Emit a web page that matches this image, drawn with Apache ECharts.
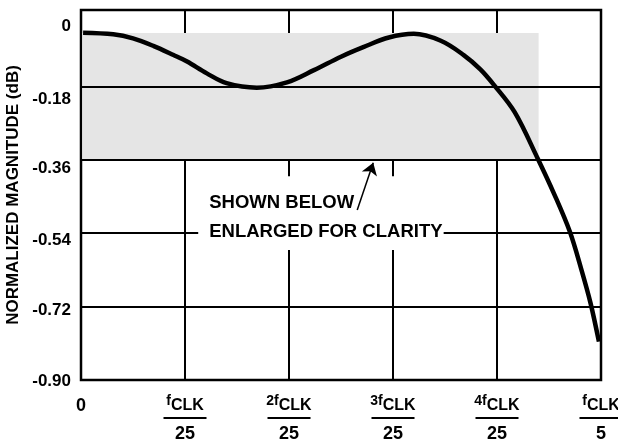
<!DOCTYPE html>
<html>
<head>
<meta charset="utf-8">
<script src="https://cdn.jsdelivr.net/npm/echarts@6/dist/echarts.min.js"></script>
<style>
  html, body { margin: 0; padding: 0; background: #fff; }
  #chart { width: 618px; height: 441px; }
</style>
</head>
<body>
<div id="chart"></div>
<script>
// ---- data ----
const xTickValues = [0, 1, 2, 3, 4, 5];               // multiples of fCLK/25
const xTickPrefix = ['', '', '2', '3', '4', ''];
const xTickDenominators = ['', '25', '25', '25', '25', '5'];
const yTickValues = [0, -0.18, -0.36, -0.54, -0.72, -0.9];
const yTickLabels = ['0', '-0.18', '-0.36', '-0.54', '-0.72', '-0.90'];
const yGridValues = [-0.18, -0.36, -0.54, -0.72];
const curveX = [0.02, 0.31, 0.50, 0.70, 0.89, 1.02, 1.21, 1.40, 1.69, 1.98, 2.24, 2.50, 2.72, 2.96, 3.20, 3.46, 3.68, 3.84, 3.97, 4.17, 4.39, 4.55, 4.70, 4.81, 4.90, 4.98];
const curveY = [-0.048, -0.052, -0.062, -0.081, -0.103, -0.119, -0.148, -0.172, -0.183, -0.170, -0.140, -0.107, -0.083, -0.060, -0.051, -0.068, -0.103, -0.138, -0.176, -0.243, -0.356, -0.444, -0.536, -0.628, -0.712, -0.806];
const shadedX = [0.012, 4.40];
const shadedY = [-0.049, -0.36];
const noteLines = ['SHOWN BELOW', 'ENLARGED FOR CLARITY'];
const yAxisTitle = 'NORMALIZED MAGNITUDE (dB)';

// ---- chart ----
const FONT = 'Liberation Sans, Arial, Helvetica, sans-serif';
const B = 700;
const yLabelPad = [25.6, 24.8, 16.4, 14.6, 8.4, 3.4];
const yRich = {};
yLabelPad.forEach((p, i) => {
  yRich['o' + i] = { fontSize: 17, fontWeight: B, fontFamily: FONT, color: '#000', padding: [p, 0, 0, 0] };
});

const chart = echarts.init(document.getElementById('chart'), null, { renderer: 'canvas' });
const option = {
  animation: false,
  backgroundColor: '#fff',
  textStyle: { fontFamily: FONT, fontWeight: B, color: '#000' },
  grid: { left: 81, right: 17, top: 10, bottom: 61, outerBoundsMode: 'none', containLabel: false, show: true, borderColor: '#000', borderWidth: 2.5, backgroundColor: 'transparent' },
  xAxis: {
    type: 'value', min: 0, max: 5, interval: 1,
    axisLine: { show: false }, axisTick: { show: false },
    splitLine: { show: true, lineStyle: { color: '#000', width: 2 } },
    axisLabel: {
      margin: 14, fontWeight: B, fontFamily: FONT, color: '#000',
      formatter: function (v) {
        const i = xTickValues.indexOf(Math.round(v));
        if (i < 0) return '';
        if (xTickValues[i] === 0) return '{zero|0}';
        return '{sup|' + xTickPrefix[i] + 'f}{clk|CLK}\n{bar|}\n{den|' + xTickDenominators[i] + '}';
      },
      rich: {
        zero: { fontSize: 18, fontWeight: B, fontFamily: FONT, color: '#000', padding: [3, 0, 0, 0] },
        sup: { fontSize: 14, fontWeight: B, fontFamily: FONT, color: '#000', verticalAlign: 'bottom', padding: [0, 0, 9, 0] },
        clk: { fontSize: 16, fontWeight: B, fontFamily: FONT, color: '#000', verticalAlign: 'bottom', padding: [0, 0, 3, 0] },
        bar: { width: 43, height: 2, lineHeight: 2, backgroundColor: '#000' },
        den: { fontSize: 18, fontWeight: B, fontFamily: FONT, color: '#000', padding: [6, 0, 0, 0] }
      }
    }
  },
  yAxis: {
    type: 'value', min: -0.9, max: 0.0075, interval: 0.18,
    axisLine: { show: false }, axisTick: { show: false }, splitLine: { show: false },
    name: yAxisTitle, nameLocation: 'middle', nameGap: 52,
    nameTextStyle: { fontSize: 17, fontWeight: B, fontFamily: FONT, color: '#000' },
    axisLabel: {
      margin: 10, fontWeight: B, fontFamily: FONT, color: '#000',
      formatter: function (v) {
        for (let i = 0; i < yTickValues.length; i++) {
          if (Math.abs(yTickValues[i] - v) < 1e-6) return '{o' + i + '|' + yTickLabels[i] + '}';
        }
        return '';
      },
      rich: yRich
    }
  },
  series: [
    {
      name: 'shade', type: 'line', data: [], z: -1, silent: true,
      markArea: {
        silent: true,
        itemStyle: { color: '#e5e5e5' },
        data: [[{ coord: [shadedX[0], shadedY[0]] }, { coord: [shadedX[1], shadedY[1]] }]]
      }
    },
    {
      name: 'grid', type: 'line', data: [], z: 1, silent: true,
      markLine: {
        silent: true, z: 2, symbol: ['none', 'none'], label: { show: false },
        lineStyle: { color: '#000', width: 2, type: 'solid' },
        data: yGridValues.map(v => ({ yAxis: v }))
      }
    },
    {
      name: 'note', type: 'line', data: [], z: 3, silent: true,
      markArea: {
        silent: true, z: 6,
        itemStyle: { color: '#fff' },
        data: [[{ coord: [1.127, -0.400] }, { coord: [3.487, -0.581] }]]
      },
      markPoint: {
        silent: true, z: 7, symbol: 'circle', symbolSize: 0, itemStyle: { color: 'transparent' },
        label: {
          show: true, position: 'right', distance: 0,
          formatter: noteLines.join('\n'),
          fontSize: 18.5, fontWeight: B, fontFamily: FONT, color: '#000',
          lineHeight: 28.7, align: 'left'
        },
        data: [{ coord: [1.233, -0.501] }]
      }
    },
    {
      name: 'arrow', type: 'line', data: [], z: 4, silent: true,
      markLine: {
        silent: true, z: 8, symbol: ['none', 'arrow'], symbolSize: 12, label: { show: false },
        lineStyle: { color: '#000', width: 1.5, type: 'solid' },
        data: [[{ coord: [2.656, -0.483] }, { coord: [2.81, -0.367] }]]
      }
    },
    {
      name: 'response', type: 'line', z: 10,
      data: curveX.map((x, i) => [x, curveY[i]]),
      smooth: 0.35, showSymbol: false, silent: true,
      lineStyle: { color: '#000', width: 4.5 }
    }
  ]
};
chart.setOption(option);
</script>
</body>
</html>
